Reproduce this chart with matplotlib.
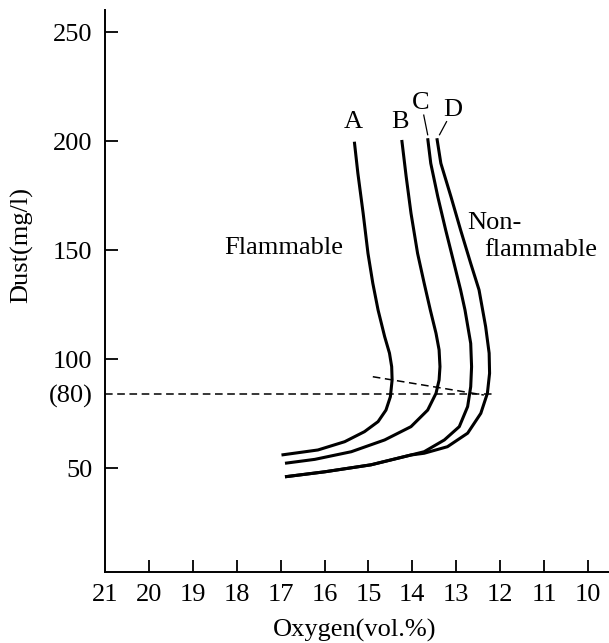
import matplotlib
matplotlib.use('Agg')
import matplotlib.pyplot as plt

plt.rcParams['font.family'] = ['Liberation Serif', 'DejaVu Serif']

# curves: oxygen (vol.%) vs dust (mg/l)
oxy_a = [15.32, 15.24, 15.12, 15.01, 14.90, 14.78, 14.63, 14.52, 14.47, 14.46,
         14.50, 14.60, 14.78, 15.09, 15.54, 16.15, 16.98]
dust_a = [199.8, 185.3, 167.0, 148.6, 134.9, 122.6, 110.4, 102.8, 96.6, 90.5,
          82.8, 76.7, 71.4, 66.8, 62.2, 58.4, 56.1]

oxy_b = [14.24, 14.14, 14.03, 13.88, 13.73, 13.59, 13.46, 13.39, 13.37, 13.39,
         13.46, 13.65, 14.03, 14.63, 15.39, 16.22, 16.90]
dust_b = [200.6, 183.8, 167.0, 148.6, 134.9, 122.6, 111.9, 104.3, 96.6, 90.5,
          84.4, 76.7, 69.1, 63.0, 57.6, 54.1, 52.3]

oxy_c = [13.65, 13.58, 13.42, 13.24, 13.05, 12.90, 12.80, 12.67, 12.65, 12.67,
         12.74, 12.93, 13.27, 13.73, 14.03, 14.94, 15.99, 16.90]
dust_c = [201.4, 189.9, 174.6, 159.3, 144.0, 131.8, 122.6, 107.3, 96.6, 87.4,
          78.3, 69.1, 63.0, 57.6, 56.1, 51.6, 48.4, 46.1]

oxy_d = [13.44, 13.35, 13.12, 12.90, 12.67, 12.48, 12.33, 12.25, 12.24, 12.29,
         12.44, 12.74, 13.20, 13.73, 14.03, 14.94, 15.99, 16.90]
dust_d = [201.4, 189.9, 174.6, 159.3, 144.0, 131.8, 115.0, 102.8, 93.6, 84.4,
          75.2, 66.1, 59.9, 56.9, 56.1, 51.6, 48.4, 46.1]

# the "(80)" reference line sits a bit above 80 in the drawing
ref_level = 84.0
ref_end = 12.17
slant_oxy = [14.90, 12.37]
slant_dust = [92.0, 83.6]

x_ticks = [21, 20, 19, 18, 17, 16, 15, 14, 13, 12, 11, 10]
y_ticks = [50, ref_level, 100, 150, 200, 250]
y_labels = ['50', '(80)', '100', '150', '200', '250']

fig = plt.figure(figsize=(6.09, 6.43), dpi=100)
ax = fig.add_axes([0.1724, 0.1109, 0.8276, 0.8735])

for xs, ys in [(oxy_a, dust_a), (oxy_b, dust_b), (oxy_c, dust_c), (oxy_d, dust_d)]:
    ax.plot(xs, ys, color='black', lw=2.2, solid_capstyle='butt', solid_joinstyle='round')

ax.plot([21, ref_end], [ref_level, ref_level], color='black', lw=1.1, ls=(0, (5, 3)))
ax.plot(slant_oxy, slant_dust, color='black', lw=1.1, ls=(0, (5, 3)))

ax.set_xlim(20.95, 9.52)
ax.set_ylim(2.57, 260.2)

ax.spines['top'].set_visible(False)
ax.spines['right'].set_visible(False)
ax.spines['left'].set_linewidth(1.4)
ax.spines['bottom'].set_linewidth(1.4)

ax.set_xticks(x_ticks)
ax.set_xticklabels([str(t) for t in x_ticks])
ax.set_yticks(y_ticks)
ax.set_yticklabels(y_labels)
ax.tick_params(direction='in', length=9, width=1.3, labelsize=19, pad=9)
ax.yaxis.get_major_ticks()[1].tick1line.set_visible(False)
ax.xaxis.get_major_ticks()[0].tick1line.set_visible(False)

fs = 19
ax.text(15.35, 209, 'A', fontsize=fs, ha='center', va='center')
ax.text(14.27, 209, 'B', fontsize=fs, ha='center', va='center')
ax.text(13.80, 217.5, 'C', fontsize=fs, ha='center', va='center')
ax.text(13.08, 214.4, 'D', fontsize=fs, ha='center', va='center')
ax.plot([13.74, 13.65], [212.0, 203.0], color='black', lw=0.9)
ax.plot([13.22, 13.38], [209.0, 203.0], color='black', lw=0.9)

ax.text(16.94, 151, 'Flammable', fontsize=fs, ha='center', va='center')
ax.text(12.74, 162.4, 'Non-', fontsize=fs, ha='left', va='center')
ax.text(12.37, 150.1, 'flammable', fontsize=fs, ha='left', va='center')

fig.text(22 / 609, 1 - 245 / 643, 'Dust(mg/l)', fontsize=fs, rotation=90,
         ha='center', va='center')
fig.text(355 / 609, 1 - 630 / 643, 'Oxygen(vol.%)', fontsize=fs,
         ha='center', va='center')

fig.savefig('out.png', dpi=100)
